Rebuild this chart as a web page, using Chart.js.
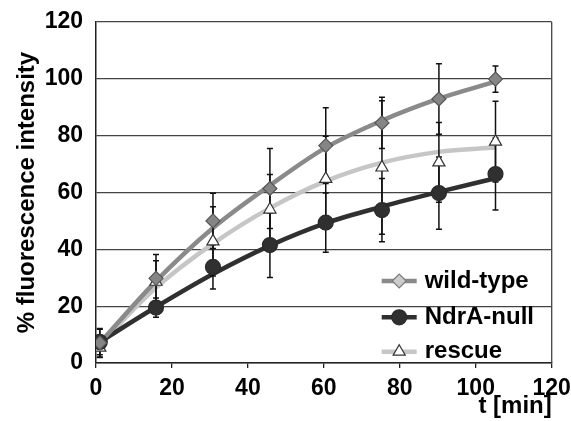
<!DOCTYPE html>
<html>
<head>
<meta charset="utf-8">
<script src="https://cdn.jsdelivr.net/npm/chart.js@4.4.1/dist/chart.umd.min.js"></script>
<style>
  html, body { margin: 0; padding: 0; background: #ffffff; }
  #wrap { width: 571px; height: 421px; position: relative; }
  canvas { display: block; }
</style>
</head>
<body>
<div id="wrap"><canvas id="c" width="571" height="421"></canvas></div>
<script>
// ---- data ----
const times        = [1, 15.8, 30.8, 45.8, 60.5, 75.3, 90.3, 105.2];

const wildType     = [7.1, 29.8, 50.0, 61.4, 76.5, 84.5, 92.9, 99.9];
const wildTypeErr  = [5.0, 8.4, 9.7, 14.1, 13.3, 9.0, 12.4, 4.6];
const wildTypeFit  = [7.0, 28.8, 47.5, 62.5, 75.8, 85.3, 93.0, 99.0];

const ndrANull     = [7.4, 19.5, 33.8, 41.5, 49.4, 53.8, 59.8, 66.5];
const ndrANullErr  = [4.5, 3.4, 7.8, 11.4, 10.4, 11.1, 12.7, 12.7];
const ndrANullFit  = [7.4, 19.7, 31.3, 41.3, 49.2, 55.0, 60.2, 65.0];

const rescue       = [5.4, 28.6, 42.8, 54.0, 64.8, 68.8, 70.6, 77.9];
const rescueErr    = [3.5, 7.4, 12.2, 12.3, 15.0, 23.5, 14.0, 14.2];
const rescueFit    = [6.5, 26.5, 42.0, 54.5, 64.0, 70.5, 74.3, 75.8];

const seriesLabels = ['wild-type', 'NdrA-null', 'rescue'];
const axisTicks    = [0, 20, 40, 60, 80, 100, 120];
const xTitle       = 't [min]';
const yTitle       = '% fluorescence intensity';

// ---- styling ----
const FONT = "'Liberation Sans', Arial, Helvetica, sans-serif";
const styles = [
  { line: '#8a8a8a', pointStyle: 'rectRot',  radius: 7,   fill: '#858585', border: '#555555', legendFill: '#cccccc', legendBorder: '#7a7a7a' },
  { line: '#303030', pointStyle: 'circle',   radius: 7.5, fill: '#303030', border: '#2a2a2a', legendFill: '#303030', legendBorder: '#2a2a2a' },
  { line: '#c6c6c6', pointStyle: 'triangle', radius: 7,   fill: '#ffffff', border: '#333333', legendFill: '#ffffff', legendBorder: '#333333' }
];
const values = [wildType, ndrANull, rescue];
const errors = [wildTypeErr, ndrANullErr, rescueErr];
const fits   = [wildTypeFit, ndrANullFit, rescueFit];

const toPts = ys => times.map((t, i) => ({ x: t, y: ys[i] }));

const datasets = [];
seriesLabels.forEach((label, s) => {
  datasets.push({
    label: label + ' fit',
    data: toPts(fits[s]),
    showLine: true,
    borderColor: styles[s].line,
    borderWidth: 4.5,
    pointRadius: 0,
    cubicInterpolationMode: 'monotone',
    order: 10,
    isFit: true
  });
});
seriesLabels.forEach((label, s) => {
  datasets.push({
    label: label,
    data: toPts(values[s]),
    showLine: false,
    pointStyle: styles[s].pointStyle,
    pointRadius: styles[s].radius,
    pointHoverRadius: styles[s].radius,
    backgroundColor: styles[s].fill,
    borderColor: styles[s].border,
    pointBorderWidth: 1.2,
    order: 1,
    errors: errors[s],
    styleIndex: s
  });
});

// error bars drawn below markers, above fitted curves
const errorBarPlugin = {
  id: 'errorBars',
  beforeDatasetsDraw(chart) { chart.$errDone = false; },
  beforeDatasetDraw(chart, args) {
    const ds = chart.data.datasets[args.index];
    if (!ds.errors || chart.$errDone) return;
    chart.$errDone = true;
    const { ctx, scales: { x, y } } = chart;
    ctx.save();
    ctx.strokeStyle = '#111111';
    ctx.lineWidth = 1.5;
    chart.data.datasets.forEach(d => {
      if (!d.errors) return;
      d.data.forEach((p, i) => {
        const px = x.getPixelForValue(p.x);
        const top = y.getPixelForValue(p.y + d.errors[i]);
        const bot = y.getPixelForValue(p.y - d.errors[i]);
        ctx.beginPath();
        ctx.moveTo(px, top); ctx.lineTo(px, bot);
        ctx.moveTo(px - 3, top); ctx.lineTo(px + 3, top);
        ctx.moveTo(px - 3, bot); ctx.lineTo(px + 3, bot);
        ctx.stroke();
      });
    });
    ctx.restore();
  }
};

// right border of the plot frame
const framePlugin = {
  id: 'frame',
  beforeDatasetsDraw(chart) {
    const { ctx, chartArea: a } = chart;
    ctx.save();
    ctx.strokeStyle = '#444444';
    ctx.lineWidth = 1.3;
    ctx.beginPath();
    ctx.moveTo(a.right, a.top);
    ctx.lineTo(a.right, a.bottom);
    ctx.stroke();
    ctx.restore();
  }
};

// legend inside plot area, bottom right: line + marker + label
const insideLegend = {
  id: 'insideLegend',
  afterDraw(chart) {
    const { ctx, chartArea: a } = chart;
    const rowsFromBottom = [82, 45.7, 11.3];
    ctx.save();
    chart.data.datasets.filter(d => !d.isFit).forEach((d, k) => {
      const st = styles[d.styleIndex];
      const cy = a.bottom - rowsFromBottom[k];
      const x1 = a.right - 170, x2 = a.right - 135, cx = (x1 + x2) / 2;
      ctx.strokeStyle = st.line;
      ctx.lineWidth = 4.5;
      ctx.beginPath(); ctx.moveTo(x1, cy); ctx.lineTo(x2, cy); ctx.stroke();
      ctx.fillStyle = st.legendFill;
      ctx.strokeStyle = st.legendBorder;
      ctx.lineWidth = 1.2;
      Chart.helpers.drawPoint(ctx, { pointStyle: st.pointStyle, radius: st.radius, borderWidth: 1.2 }, cx, cy);
      ctx.fillStyle = '#000000';
      ctx.font = 'bold 24px ' + FONT;
      ctx.textAlign = 'left';
      ctx.textBaseline = 'alphabetic';
      ctx.fillText(d.label, a.right - 127, cy + 6.5);
    });
    ctx.restore();
  }
};

Chart.defaults.font.family = FONT;
Chart.defaults.font.weight = 'bold';
Chart.defaults.color = '#000000';

new Chart(document.getElementById('c'), {
  type: 'scatter',
  data: { datasets },
  plugins: [framePlugin, errorBarPlugin, insideLegend],
  options: {
    responsive: false,
    maintainAspectRatio: false,
    animation: false,
    devicePixelRatio: 1,
    layout: { padding: { top: 22, right: 19.3, left: 0, bottom: 0 } },
    plugins: { legend: { display: false }, tooltip: { enabled: false } },
    scales: {
      x: {
        type: 'linear',
        min: 0, max: 120,
        afterBuildTicks: s => { s.ticks = axisTicks.map(v => ({ value: v })); },
        ticks: { font: { size: 23, weight: 'bold' }, padding: 7, color: '#000' },
        grid: { drawOnChartArea: false, drawTicks: true, tickLength: 5, color: '#222222', lineWidth: 1.3 },
        border: { color: '#222222', width: 1.5 },
        title: { display: true, text: xTitle, align: 'end', font: { size: 24, weight: 'bold' }, padding: { top: 0, bottom: 0 }, color: '#000' },
        afterFit: s => { s.height = 58; s.paddingLeft = 0; s.paddingRight = 19.3; }
      },
      y: {
        type: 'linear',
        min: 0, max: 120,
        afterBuildTicks: s => { s.ticks = axisTicks.map(v => ({ value: v })); },
        ticks: { font: { size: 23, weight: 'bold' }, padding: 13, color: '#000' },
        grid: { drawOnChartArea: true, drawTicks: false, color: '#444444', lineWidth: 1.3 },
        border: { color: '#222222', width: 1.5 },
        title: { display: true, text: yTitle, font: { size: 24, weight: 'bold' }, padding: { top: 13, bottom: 0 }, color: '#000' },
        afterFit: s => { s.width = 96; s.paddingTop = 22; s.paddingBottom = 0; }
      }
    }
  }
});
</script>
</body>
</html>
